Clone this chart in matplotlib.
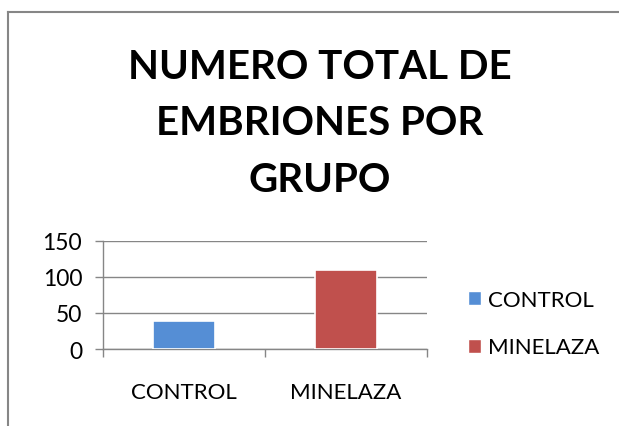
import matplotlib
matplotlib.use("Agg")
import matplotlib.pyplot as plt
from matplotlib.patches import Patch
from matplotlib.lines import Line2D

# --- data ---
categories = ["CONTROL", "MINELAZA"]
values = [39, 110]
colors = ["#558ED5", "#C0504D"]
title = "NUMERO TOTAL DE\nEMBRIONES POR\nGRUPO"
yticks = [0, 50, 100, 150]

plt.rcParams['font.family'] = ['Lato', 'DejaVu Sans']
GRAY = "#868686"

fig = plt.figure(figsize=(6.19, 4.27), dpi=100)
ax = fig.add_axes([0.1664, 0.1803, 0.5234, 0.2537])

x = list(range(len(categories)))
ax.bar(x, values, width=0.385, color=colors, edgecolor="white", linewidth=1.2, zorder=3)

ax.set_xlim(-0.5, len(categories) - 0.5)
ax.set_ylim(0, 150)
ax.set_yticks(yticks)
ax.yaxis.grid(True, color=GRAY, linewidth=1.0, zorder=0)
ax.tick_params(axis='y', length=6, width=1.0, color=GRAY, labelsize=16.5, pad=9)

# category labels at centres, tick marks at the boundaries
ax.set_xticks(x)
ax.set_xticklabels(categories)
ax.tick_params(axis='x', which='major', length=0, labelsize=16, pad=24)
ax.set_xticks([-0.5, 0.5, 1.5], minor=True)
ax.tick_params(axis='x', which='minor', length=6, width=1.0, color=GRAY)

for side in ['top', 'right']:
    ax.spines[side].set_visible(False)
for side in ['left', 'bottom']:
    ax.spines[side].set_color(GRAY)
    ax.spines[side].set_linewidth(1.0)

handles = [Patch(facecolor=c, edgecolor="white") for c in colors]
fig.legend(handles, categories, loc='center left', bbox_to_anchor=(0.724, 0.24),
           frameon=False, fontsize=16, handlelength=0.6, handleheight=0.6,
           handletextpad=0.3, labelspacing=1.25)

fig.text(0.516, 0.71, title, ha='center', va='center', fontsize=29,
         fontweight='bold', linespacing=1.65)

# chart area border (top and left only visible)
fig.add_artist(Line2D([8 / 619, 1], [1 - 13 / 427, 1 - 13 / 427], color=GRAY, linewidth=1.5))
fig.add_artist(Line2D([8 / 619, 8 / 619], [0, 1 - 13 / 427], color=GRAY, linewidth=1.5))

fig.savefig("out.png", dpi=100)
